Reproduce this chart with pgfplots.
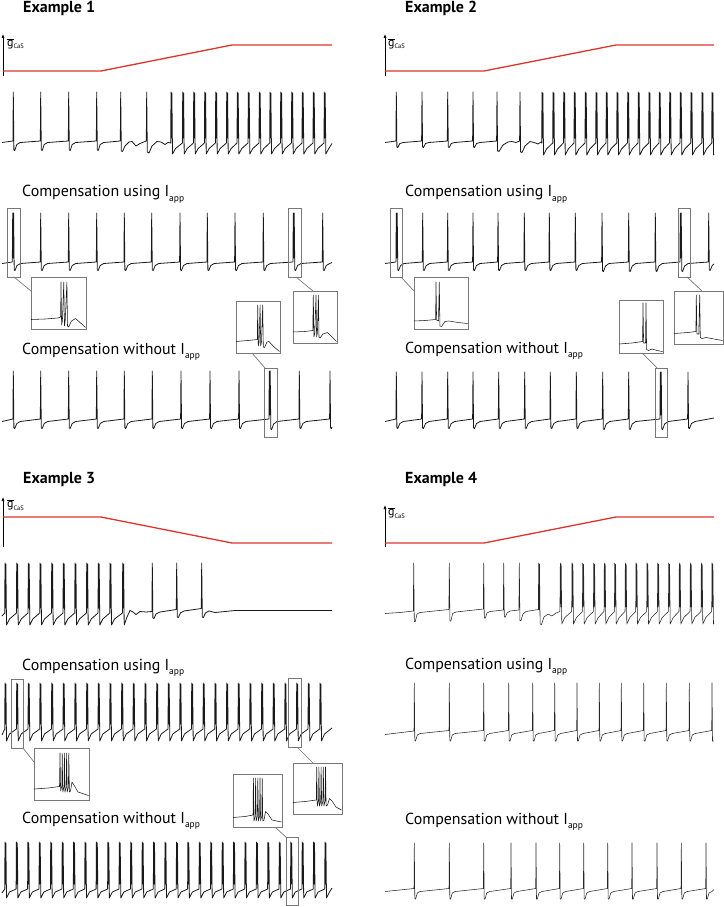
\documentclass[border=0pt]{standalone}
\usepackage{pgfplots}
\pgfplotsset{compat=1.18}
\usetikzlibrary{arrows.meta}
\usepackage{fontspec}
\setmainfont{PT Sans}
\definecolor{gred}{RGB}{221,51,43}
\definecolor{boxg}{RGB}{120,120,120}
\newcommand{\lbl}[2]{{\fontsize{16}{18}\selectfont #1 I\raisebox{-4.5bp}{\fontsize{9.5}{9.5}\selectfont app}}}
\newcommand{\ttl}[1]{{\fontsize{16}{18}\selectfont\bfseries #1}}
\newcommand{\gcas}{{\fontsize{12}{12}\selectfont$\overline{\mbox{g}}$\raisebox{-2.5bp}{\fontsize{6.5}{6.5}\selectfont CaS}}}
\begin{document}
\begin{tikzpicture}
\begin{axis}[width=724bp,height=907bp,scale only axis,xmin=0,xmax=724,ymin=0,ymax=907,y dir=reverse,hide axis,clip=false,
  trace/.style={black!90,line width=0.8bp,line join=round},
  thin trace/.style={black!85,line width=0.55bp,line join=round},
  gline/.style={gred,line width=1.3bp},
  bx/.style={boxg,line width=0.7bp},
  ax/.style={black,line width=0.6bp,-{Latex[length=4bp,width=3bp]}}]
\addplot[draw=none] coordinates {(0,0) (724,907)};
% ---------- titles and labels
\node[anchor=base west,inner sep=0] at (axis cs:23,12.7) {\ttl{Example 1}};
\node[anchor=base west,inner sep=0] at (axis cs:405,12.7) {\ttl{Example 2}};
\node[anchor=base west,inner sep=0] at (axis cs:23,483) {\ttl{Example 3}};
\node[anchor=base west,inner sep=0] at (axis cs:405,483) {\ttl{Example 4}};
\node[anchor=base west,inner sep=0] at (axis cs:22,196.7) {\lbl{Compensation using}{}};
\node[anchor=base west,inner sep=0] at (axis cs:405,196.7) {\lbl{Compensation using}{}};
\node[anchor=base west,inner sep=0] at (axis cs:22,670) {\lbl{Compensation using}{}};
\node[anchor=base west,inner sep=0] at (axis cs:405,669) {\lbl{Compensation using}{}};
\node[anchor=base west,inner sep=0] at (axis cs:22,354) {\lbl{Compensation without}{}};
\node[anchor=base west,inner sep=0] at (axis cs:405,353) {\lbl{Compensation without}{}};
\node[anchor=base west,inner sep=0] at (axis cs:22,823) {\lbl{Compensation without}{}};
\node[anchor=base west,inner sep=0] at (axis cs:405,824) {\lbl{Compensation without}{}};
\node[anchor=base west,inner sep=0] at (axis cs:7,46.5) {\gcas};
\node[anchor=base west,inner sep=0] at (axis cs:388,46.5) {\gcas};
\node[anchor=base west,inner sep=0] at (axis cs:7,507.5) {\gcas};
\node[anchor=base west,inner sep=0] at (axis cs:388,515.5) {\gcas};
% ---------- gCaS axes and ramps
\addplot[ax] coordinates {(3,76) (3,34)};
\addplot[ax] coordinates {(385,76) (385,34)};
\addplot[ax] coordinates {(3,547) (3,497)};
\addplot[ax] coordinates {(385,547) (385,505)};
\addplot[gline] coordinates {(3,71) (101,71) (232,45) (332,45)};
\addplot[gline] coordinates {(385,71) (484,71) (616,45) (714,45)};
\addplot[gline] coordinates {(3,517) (101,517) (232,543) (332,543)};
\addplot[gline] coordinates {(385,543) (484,543) (616,517) (714,517)};
% ---------- Example 1, trace 1
\addplot[trace] coordinates {(2,142.5)
(12.9,141)(13.3,92)(13.9,150)(14.8,150.5)(16.8,144.5)(20.3,142.5)
(40.3,141)(40.7,92)(41.3,150)(42.2,150.5)(44.2,144.5)(47.7,142.5)
(68.3,141)(68.7,92)(69.3,150)(70.2,150.5)(72.2,144.5)(75.7,142.5)
(96.3,141)(96.7,92)(97.3,150)(98.2,150.5)(100.2,144.5)(103.7,142.5)
(120.3,141)(120.7,92)(121.3,151)(122.5,151.5)(125,146)(129,142)(132,141.5)(136,146)(140,143.5)
(146.3,141)(146.7,92)(147.3,152)(149,153)(152,146)(157,141.5)(161,142)(165,144.5)(168,142.5)
(170.7,143)(171,92)(171.5,138)(171.9,93)(172.5,154)(175.5,148.5)
(182.4,143)(182.7,92)(183.2,138)(183.6,93)(184.2,154)(187.2,148.5)
(193.4,143)(193.7,92)(194.2,138)(194.6,93)(195.2,154)(198.2,148.5)
(204.4,143)(204.7,92)(205.2,138)(205.6,93)(206.2,154)(209.2,148.5)
(215.4,143)(215.7,92)(216.2,138)(216.6,93)(217.2,154)(220.2,148.5)
(226.4,143)(226.7,92)(227.2,138)(227.6,93)(228.2,154)(231.2,148.5)
(237,143)(237.3,92)(237.8,138)(238.2,93)(238.8,154)(241.8,148.5)
(248,143)(248.3,92)(248.8,138)(249.2,93)(249.8,154)(252.8,148.5)
(259,143)(259.3,92)(259.8,138)(260.2,93)(260.8,154)(263.8,148.5)
(269.7,143)(270,92)(270.5,138)(270.9,93)(271.5,154)(274.5,148.5)
(280.4,143)(280.7,92)(281.2,138)(281.6,93)(282.2,154)(285.2,148.5)
(291.4,143)(291.7,92)(292.2,138)(292.6,93)(293.2,154)(296.2,148.5)
(302,143)(302.3,92)(302.8,138)(303.2,93)(303.8,154)(306.8,148.5)
(313,143)(313.3,92)(313.8,138)(314.2,93)(314.8,154)(317.8,148.5)
(324,143)(324.3,92)(324.8,138)(325.2,93)(325.8,154)(328.8,148.5)(332,143.5)};
% ---------- Example 1, trace 2
\addplot[trace] coordinates {(2,263.5)
(12.3,262)(12.7,213)(13.2,258)(13.6,213)(14.2,270)(15,270.5)(17,265.5)(20.5,263.5)
(40.3,262)(40.7,213)(41.3,270)(42.2,270.5)(44.2,265.5)(47.7,263.5)
(68.3,262)(68.7,213)(69.3,270)(70.2,270.5)(72.2,265.5)(75.7,263.5)
(96.3,262)(96.7,213)(97.3,270)(98.2,270.5)(100.2,265.5)(103.7,263.5)
(123.9,262)(124.3,213)(124.9,270)(125.8,270.5)(127.8,265.5)(131.3,263.5)
(151.3,262)(151.7,213)(152.3,270)(153.2,270.5)(155.2,265.5)(158.7,263.5)
(179.6,262)(180,213)(180.6,270)(181.5,270.5)(183.5,265.5)(187,263.5)
(206.9,262)(207.3,213)(207.9,270)(208.8,270.5)(210.8,265.5)(214.3,263.5)
(234.6,262)(235,213)(235.6,270)(236.5,270.5)(238.5,265.5)(242,263.5)
(262.9,262)(263.3,213)(263.9,270)(264.8,270.5)(266.8,265.5)(270.3,263.5)
(292.9,262)(293.3,213)(293.8,258)(294.2,213)(294.8,270)(295.6,270.5)(297.6,265.5)(301.1,263.5)
(322.3,262)(322.7,213)(323.3,270)(324.2,270.5)(326.2,265.5)(329.7,263.5)(332,262.5)};
% ---------- Example 1, trace 3
\addplot[trace] coordinates {(2,421.5)
(12.9,419)(13.3,371)(13.9,428)(14.8,428.5)(16.8,423.5)(20.3,421.5)
(40.3,419)(40.7,371)(41.3,428)(42.2,428.5)(44.2,423.5)(47.7,421.5)
(68.3,419)(68.7,371)(69.3,428)(70.2,428.5)(72.2,423.5)(75.7,421.5)
(96.3,419)(96.7,371)(97.3,428)(98.2,428.5)(100.2,423.5)(103.7,421.5)
(123.9,419)(124.3,371)(124.9,428)(125.8,428.5)(127.8,423.5)(131.3,421.5)
(151.9,419)(152.3,371)(152.9,428)(153.8,428.5)(155.8,423.5)(159.3,421.5)
(180.6,419)(181,371)(181.6,428)(182.5,428.5)(184.5,423.5)(188,421.5)
(209.6,419)(210,371)(210.6,428)(211.5,428.5)(213.5,423.5)(217,421.5)
(238.6,419)(239,371)(239.6,428)(240.5,428.5)(242.5,423.5)(246,421.5)
(268.9,419)(269.3,371)(269.8,415)(270.2,371)(270.8,429)(271.6,429.5)(273.6,424)(277.1,421.5)
(298.9,419)(299.3,371)(299.9,428)(300.8,428.5)(302.8,423.5)(306.3,421.5)
(329.6,419)(330,371)(330.6,428)(331.5,428.5)(332,427)};
% ---------- Example 1 boxes and insets
\addplot[bx] coordinates {(7,208)(20,208)(20,277)(7,277)(7,208)};
\addplot[bx] coordinates {(14,277)(31,291)};
\addplot[bx] coordinates {(31,277)(86,277)(86,329)(31,329)(31,277)};
\addplot[trace,line width=0.55bp] coordinates {(31,319.5)(45,319)(58,318)(60.6,317)(61,282)(61.6,325)(62.4,321)(63.8,282)(64.4,326)(65.2,321)(66.9,282)(67.5,326)(68.6,327)(71.5,321)(75.5,318.5)(79.5,322)(85.5,327.5)};
\addplot[bx] coordinates {(288,208)(301,208)(301,277)(288,277)(288,208)};
\addplot[bx] coordinates {(296,277)(313,291)};
\addplot[bx] coordinates {(293,291)(337,291)(337,343)(293,343)(293,291)};
\addplot[trace,line width=0.55bp] coordinates {(293,332)(305,331.5)(312.8,330.5)(313.3,295)(313.9,337)(314.8,333)(316,295)(316.6,337)(317.4,333)(318.4,295)(319,337)(320,338)(323,334)(327.5,332.5)(331,336)(336.5,341.5)};
\addplot[bx] coordinates {(236,301)(280,301)(280,353)(236,353)(236,301)};
\addplot[bx] coordinates {(252,353)(265,368)};
\addplot[bx] coordinates {(264,368)(277,368)(277,437)(264,437)(264,368)};
\addplot[trace,line width=0.55bp] coordinates {(236,341.5)(248,340.5)(257.3,339.5)(257.7,305)(258.3,346)(259.1,342)(260.1,305)(260.7,346)(261.5,342)(262.7,305)(263.3,347)(264.5,347.5)(267,342)(269,341.5)(273,346)(279.5,351.5)};
% ---------- Example 2, trace 1
\addplot[trace] coordinates {(385,142.5)
(395.9,141)(396.3,92)(396.9,147)(397.8,147.5)(399.8,143.5)(403.3,142.5)
(421.6,141)(422,92)(422.6,147)(423.5,147.5)(425.5,143.5)(429,142.5)
(447.3,141)(447.7,92)(448.3,147)(449.2,147.5)(451.2,143.5)(454.7,142.5)
(472.6,141)(473,92)(473.6,147)(474.5,147.5)(476.5,143.5)(480,142.5)
(496.6,141)(497,92)(497.6,151)(499,151.5)(503,145)(508,142)(512,141.5)(516,142.5)
(519.6,141)(520,92)(520.6,152)(522,152.5)(525,146)(530,141.5)(534,142.5)(538,144)(541,142)
(541.7,143)(542,92)(542.5,138)(542.9,93)(543.5,155)(546.5,149)
(552.7,143)(553,92)(553.5,138)(553.9,93)(554.5,155)(557.5,149)
(563.4,143)(563.7,92)(564.2,138)(564.6,93)(565.2,155)(568.2,149)
(574,143)(574.3,92)(574.8,138)(575.2,93)(575.8,155)(578.8,149)
(585,143)(585.3,92)(585.8,138)(586.2,93)(586.8,155)(589.8,149)
(595.7,143)(596,92)(596.5,138)(596.9,93)(597.5,155)(600.5,149)
(606,143)(606.3,92)(606.8,138)(607.2,93)(607.8,155)(610.8,149)
(616.7,143)(617,92)(617.5,138)(617.9,93)(618.5,155)(621.5,149)
(627.4,143)(627.7,92)(628.2,138)(628.6,93)(629.2,155)(632.2,149)
(638,143)(638.3,92)(638.8,138)(639.2,93)(639.8,155)(642.8,149)
(648.7,143)(649,92)(649.5,138)(649.9,93)(650.5,155)(653.5,149)
(659,143)(659.3,92)(659.8,138)(660.2,93)(660.8,155)(663.8,149)
(669.4,143)(669.7,92)(670.2,138)(670.6,93)(671.2,155)(674.2,149)
(680,143)(680.3,92)(680.8,138)(681.2,93)(681.8,155)(684.8,149)
(690.7,143)(691,92)(691.5,138)(691.9,93)(692.5,155)(695.5,149)
(701.7,143)(702,92)(702.5,138)(702.9,93)(703.5,155)(706.5,149)
(711.7,143)(712,92)(712.5,138)(712.9,93)(713.5,155)(714,154)};
% ---------- Example 2, trace 2
\addplot[trace] coordinates {(385,263.5)
(395.9,262)(396.3,213)(396.8,258)(397.2,213)(397.8,270)(398.6,270.5)(400.6,265.5)(404.1,263.5)
(422.3,262)(422.7,213)(423.3,270)(424.2,270.5)(426.2,265.5)(429.7,263.5)
(447.3,262)(447.7,213)(448.3,270)(449.2,270.5)(451.2,265.5)(454.7,263.5)
(472.6,262)(473,213)(473.6,270)(474.5,270.5)(476.5,265.5)(480,263.5)
(497.6,262)(498,213)(498.6,270)(499.5,270.5)(501.5,265.5)(505,263.5)
(523.9,262)(524.3,213)(524.9,270)(525.8,270.5)(527.8,265.5)(531.3,263.5)
(548.9,262)(549.3,213)(549.9,270)(550.8,270.5)(552.8,265.5)(556.3,263.5)
(574.9,262)(575.3,213)(575.9,270)(576.8,270.5)(578.8,265.5)(582.3,263.5)
(601.6,262)(602,213)(602.6,271)(603.5,271.5)(605.5,266)(609,263.5)
(628.3,262)(628.7,213)(629.3,271)(630.2,271.5)(632.2,266)(635.7,263.5)
(654.9,262)(655.3,213)(655.9,271)(656.8,271.5)(658.8,266)(662.3,263.5)
(679.9,262)(680.3,213)(680.8,258)(681.2,213)(681.8,271)(682.6,271.5)(684.6,266)(688.1,263.5)
(708.3,262)(708.7,213)(709.3,270)(710.2,270.5)(712.2,265.5)(714,264)};
% ---------- Example 2, trace 3
\addplot[trace] coordinates {(385,421.5)
(395.9,419)(396.3,372)(396.9,428)(397.8,428.5)(399.8,423.5)(403.3,421.5)
(421.6,419)(422,372)(422.6,428)(423.5,428.5)(425.5,423.5)(429,421.5)
(447.3,419)(447.7,372)(448.3,428)(449.2,428.5)(451.2,423.5)(454.7,421.5)
(472.6,419)(473,372)(473.6,428)(474.5,428.5)(476.5,423.5)(480,421.5)
(498.3,419)(498.7,372)(499.3,428)(500.2,428.5)(502.2,423.5)(505.7,421.5)
(524.3,419)(524.7,372)(525.3,428)(526.2,428.5)(528.2,423.5)(531.7,421.5)
(549.9,419)(550.3,372)(550.9,428)(551.8,428.5)(553.8,423.5)(557.3,421.5)
(575.9,419)(576.3,372)(576.9,428)(577.8,428.5)(579.8,423.5)(583.3,421.5)
(602.3,419)(602.7,372)(603.3,429)(604.2,429.5)(606.2,424)(609.7,421.5)
(628.3,419)(628.7,372)(629.3,429)(630.2,429.5)(632.2,424)(635.7,421.5)
(659.9,419)(660.3,372)(660.8,415)(661.2,372)(661.8,429)(662.6,429.5)(664.6,424)(668.1,421.5)
(687.6,419)(688,372)(688.6,428)(689.5,428.5)(691.5,423.5)(695,421.5)(714,418)};
% ---------- Example 2 boxes and insets
\addplot[bx] coordinates {(390,208)(402,208)(402,277)(390,277)(390,208)};
\addplot[bx] coordinates {(401,277)(414,291)};
\addplot[bx] coordinates {(414,277)(468,277)(468,329)(414,329)(414,277)};
\addplot[trace,line width=0.55bp] coordinates {(414,321)(425,320.5)(435.6,319.5)(436,282)(436.6,320)(438.5,321)(439.3,282)(439.9,326)(441.5,326.5)(445,321.5)(449,321)(458,322.5)(467.5,323.5)};
\addplot[bx] coordinates {(678,208)(690,208)(690,277)(678,277)(678,208)};
\addplot[bx] coordinates {(687,277)(702,291)};
\addplot[bx] coordinates {(674,291)(723,291)(723,344)(674,344)(674,291)};
\addplot[trace,line width=0.55bp] coordinates {(674,333.5)(688,332.5)(695.9,331.5)(696.3,295)(696.9,334)(698.8,334)(699.7,295)(700.3,337.5)(702,338.5)(706,337.5)(714,339)(722.5,340.5)};
\addplot[bx] coordinates {(619,300)(663,300)(663,353)(619,353)(619,300)};
\addplot[bx] coordinates {(642,353)(657,368)};
\addplot[bx] coordinates {(655,368)(667,368)(667,437)(655,437)(655,368)};
\addplot[trace,line width=0.55bp] coordinates {(619,344)(632,343)(642.6,341.5)(643,303)(643.6,343)(645.5,343)(646,303)(646.6,349.5)(648.5,350.5)(652,349)(657,350.5)(662.5,351.5)};
% ---------- Example 3, trace 1
\addplot[trace] coordinates {(2,616)
(4.7,613)(5,563)(5.5,608)(5.9,564)(6.5,625)(9.5,619)
(16.4,613)(16.7,563)(17.2,608)(17.6,564)(18.2,625)(21.2,619)
(28,613)(28.3,563)(28.8,608)(29.2,564)(29.8,625)(32.8,619)
(39.7,613)(40,563)(40.5,608)(40.9,564)(41.5,625)(44.5,619)
(51.4,613)(51.7,563)(52.2,608)(52.6,564)(53.2,625)(56.2,619)
(63,613)(63.3,563)(63.8,608)(64.2,564)(64.8,625)(67.8,619)
(74.7,613)(75,563)(75.5,608)(75.9,564)(76.5,625)(79.5,619)
(86.4,613)(86.7,563)(87.2,608)(87.6,564)(88.2,625)(91.2,619)
(98,613)(98.3,563)(98.8,608)(99.2,564)(99.8,625)(102.8,619)
(109.7,613)(110,563)(110.5,608)(110.9,564)(111.5,625)(114.5,619)
(122.4,613)(122.7,563)(123.2,608)(123.6,564)(124.2,625)(127,617)(130,610.5)(133,612)(136,614.5)(140,611.5)(146,612)
(151.9,611.5)(152.3,563)(152.9,618)(154,618.5)(156,614)(160,612)(176.3,609.5)
(176.7,563)(177.3,617)(178.4,617.5)(180.4,613)(184,611)(201.3,608.5)
(201.7,563)(202.3,617)(203.4,617.5)(205.4,613)(209,611)(215,612.5)(225,611.5)(235,610.5)(332,610.5)};
% ---------- Example 3, trace 2
\addplot[trace] coordinates {(2,735)
(4.7,729)(5,683)(5.5,724)(5.9,684)(6.5,741)(9.5,734)
(16.4,729)(16.7,683)(17.2,724)(17.6,684)(18.2,741)(21.2,734)
(28,729)(28.3,683)(28.8,724)(29.2,684)(29.8,741)(32.8,734)
(39.7,729)(40,683)(40.5,724)(40.9,684)(41.5,741)(44.5,734)
(51.4,729)(51.7,683)(52.2,724)(52.6,684)(53.2,741)(56.2,734)
(63,729)(63.3,683)(63.8,724)(64.2,684)(64.8,741)(67.8,734)
(74.7,729)(75,683)(75.5,724)(75.9,684)(76.5,741)(79.5,734)
(86.4,729)(86.7,683)(87.2,724)(87.6,684)(88.2,741)(91.2,734)
(98,729)(98.3,683)(98.8,724)(99.2,684)(99.8,741)(102.8,734)
(109.7,729)(110,683)(110.5,724)(110.9,684)(111.5,741)(114.5,734)
(121.4,729)(121.7,683)(122.2,724)(122.6,684)(123.2,741)(126.2,734)
(133,729)(133.3,683)(133.8,724)(134.2,684)(134.8,741)(137.8,734)
(144.7,729)(145,683)(145.5,724)(145.9,684)(146.5,741)(149.5,734)
(156.4,729)(156.7,683)(157.2,724)(157.6,684)(158.2,741)(161.2,734)
(168,729)(168.3,683)(168.8,724)(169.2,684)(169.8,741)(172.8,734)
(179.7,729)(180,683)(180.5,724)(180.9,684)(181.5,741)(184.5,734)
(191.4,729)(191.7,683)(192.2,724)(192.6,684)(193.2,741)(196.2,734)
(203,729)(203.3,683)(203.8,724)(204.2,684)(204.8,741)(207.8,734)
(214.7,729)(215,683)(215.5,724)(215.9,684)(216.5,741)(219.5,734)
(226.4,729)(226.7,683)(227.2,724)(227.6,684)(228.2,741)(231.2,734)
(238,729)(238.3,683)(238.8,724)(239.2,684)(239.8,741)(242.8,734)
(249.7,729)(250,683)(250.5,724)(250.9,684)(251.5,741)(254.5,734)
(261.4,729)(261.7,683)(262.2,724)(262.6,684)(263.2,741)(266.2,734)
(273,729)(273.3,683)(273.8,724)(274.2,684)(274.8,741)(277.8,734)
(284.7,729)(285,683)(285.5,724)(285.9,684)(286.5,741)(289.5,734)
(296.4,729)(296.7,683)(297.2,724)(297.6,684)(298.2,741)(301.2,734)
(308,729)(308.3,683)(308.8,724)(309.2,684)(309.8,741)(312.8,734)
(319.7,729)(320,683)(320.5,724)(320.9,684)(321.5,741)(324.5,734)(332,728)};
% ---------- Example 3, trace 3
\addplot[trace] coordinates {(2,893)
(4.7,889)(5,842)(5.5,884)(5.9,843)(6.5,898)(9.5,892)
(16.1,889)(16.4,842)(16.9,884)(17.3,843)(17.9,898)(20.9,892)
(27.6,889)(27.9,842)(28.4,884)(28.8,843)(29.4,898)(32.4,892)
(39,889)(39.3,842)(39.8,884)(40.2,843)(40.8,898)(43.8,892)
(50.4,889)(50.7,842)(51.2,884)(51.6,843)(52.2,898)(55.2,892)
(61.9,889)(62.2,842)(62.7,884)(63.1,843)(63.7,898)(66.7,892)
(73.3,889)(73.6,842)(74.1,884)(74.5,843)(75.1,898)(78.1,892)
(84.7,889)(85,842)(85.5,884)(85.9,843)(86.5,898)(89.5,892)
(96.1,889)(96.4,842)(96.9,884)(97.3,843)(97.9,898)(100.9,892)
(107.6,889)(107.9,842)(108.4,884)(108.8,843)(109.4,898)(112.4,892)
(119,889)(119.3,842)(119.8,884)(120.2,843)(120.8,898)(123.8,892)
(130.4,889)(130.7,842)(131.2,884)(131.6,843)(132.2,898)(135.2,892)
(141.9,889)(142.2,842)(142.7,884)(143.1,843)(143.7,898)(146.7,892)
(153.3,889)(153.6,842)(154.1,884)(154.5,843)(155.1,898)(158.1,892)
(164.7,889)(165,842)(165.5,884)(165.9,843)(166.5,898)(169.5,892)
(176.2,889)(176.5,842)(177,884)(177.4,843)(178,898)(181,892)
(187.6,889)(187.9,842)(188.4,884)(188.8,843)(189.4,898)(192.4,892)
(199,889)(199.3,842)(199.8,884)(200.2,843)(200.8,898)(203.8,892)
(210.4,889)(210.7,842)(211.2,884)(211.6,843)(212.2,898)(215.2,892)
(221.9,889)(222.2,842)(222.7,884)(223.1,843)(223.7,898)(226.7,892)
(233.3,889)(233.6,842)(234.1,884)(234.5,843)(235.1,898)(238.1,892)
(244.7,889)(245,842)(245.5,884)(245.9,843)(246.5,898)(249.5,892)
(256.2,889)(256.5,842)(257,884)(257.4,843)(258,898)(261,892)
(267.6,889)(267.9,842)(268.4,884)(268.8,843)(269.4,898)(272.4,892)
(279,889)(279.3,842)(279.8,884)(280.2,843)(280.8,898)(283.8,892)
(290.5,889)(290.8,842)(291.3,884)(291.7,843)(292.3,898)(295.3,892)
(301.9,889)(302.2,842)(302.7,884)(303.1,843)(303.7,898)(306.7,892)
(313.3,889)(313.6,842)(314.1,884)(314.5,843)(315.1,898)(318.1,892)
(324.7,889)(325,842)(325.5,884)(325.9,843)(326.5,898)(329.5,892)(332,888)};
% ---------- Example 3 boxes and insets
\addplot[bx] coordinates {(11,679)(23,679)(23,748)(11,748)(11,679)};
\addplot[bx] coordinates {(23,748)(34,762)};
\addplot[bx] coordinates {(34,748)(89,748)(89,800)(34,800)(34,748)};
\addplot[trace,line width=0.55bp] coordinates {(34,789)(48,788)(59.5,786.5)(60,753)(60.6,791)(61.8,786)(62.2,753)(62.8,792)(64,787)(64.4,753)(65,792)(66.2,787)(66.6,753)(67.2,792)(68.4,787)(68.8,753)(69.4,792)(70.5,791)(72,782)(74,785)(78,792)(88.5,795.5)};
\addplot[bx] coordinates {(288,678)(301,678)(301,747)(288,747)(288,678)};
\addplot[bx] coordinates {(297,747)(313,763)};
\addplot[bx] coordinates {(293,763)(342,763)(342,814)(293,814)(293,763)};
\addplot[trace,line width=0.55bp] coordinates {(293,802.5)(305,801.5)(316.3,800)(316.7,767)(317.3,806)(318.5,801)(318.9,767)(319.5,806)(320.7,801)(321.1,767)(321.7,806)(322.9,801)(323.3,767)(323.9,806)(325.1,801)(325.5,767)(326.1,806)(327.5,805)(329.5,798.5)(332,801)(336,807)(341.5,810)};
\addplot[bx] coordinates {(233,774)(282,774)(282,827)(233,827)(233,774)};
\addplot[bx] coordinates {(275,827)(287,838)};
\addplot[bx] coordinates {(286,837)(298,837)(298,905)(286,905)(286,837)};
\addplot[trace,line width=0.55bp] coordinates {(233,817.5)(245,816.5)(253,815)(253.4,778)(254,821)(255.2,816)(255.6,778)(256.2,821)(257.4,816)(257.8,778)(258.4,821)(259.6,816)(260,778)(260.6,821)(261.8,816)(262.2,778)(262.8,821)(264,820)(265.5,811.5)(268,814)(272,820)(281.5,822)};
% ---------- Example 4, trace 1
\addplot[thin trace] coordinates {(385,613.5)(400,612.5)(413.3,611)
(413.7,563)(414.3,621.5)(415.3,621.5)(417,614)(420,612.5)(448.9,609.5)
(449.3,563)(449.9,621)(450.9,621)(452.6,613.5)(456,612)(483.3,609)
(483.7,563)(484.3,618)(485.3,618)(487,613)(490,611.5)(503.3,610)
(503.7,563)(504.3,617)(505.3,617)(507,613)(510,611)(518.9,610)
(519.3,563)(519.9,620.5)(521,620.5)(523,614)(526,611.5)(538.3,609.5)
(538.7,563)(539.2,610)(539.5,564)(540.1,624)(541.5,624.5)(544,617)(548,614)(552,616)(556,613)(559.9,611.5)
(560.3,563)(560.8,607)(561.2,564)(561.8,624)(564.8,617.5)
(571.7,611.5)(572,563)(572.5,607)(572.9,564)(573.5,624)(576.5,617.5)
(582.4,611.5)(582.7,563)(583.2,607)(583.6,564)(584.2,624)(587.2,617.5)
(593.4,611.5)(593.7,563)(594.2,607)(594.6,564)(595.2,624)(598.2,617.5)
(604,611.5)(604.3,563)(604.8,607)(605.2,564)(605.8,624)(608.8,617.5)
(614.4,611.5)(614.7,563)(615.2,607)(615.6,564)(616.2,624)(619.2,617.5)
(625,611.5)(625.3,563)(625.8,607)(626.2,564)(626.8,624)(629.8,617.5)
(635.7,611.5)(636,563)(636.5,607)(636.9,564)(637.5,624)(640.5,617.5)
(646.7,611.5)(647,563)(647.5,607)(647.9,564)(648.5,624)(651.5,617.5)
(657.4,611.5)(657.7,563)(658.2,607)(658.6,564)(659.2,624)(662.2,617.5)
(668.4,611.5)(668.7,563)(669.2,607)(669.6,564)(670.2,624)(673.2,617.5)
(679,611.5)(679.3,563)(679.8,607)(680.2,564)(680.8,624)(683.8,617.5)
(690,611.5)(690.3,563)(690.8,607)(691.2,564)(691.8,624)(694.8,617.5)
(701,611.5)(701.3,563)(701.8,607)(702.2,564)(702.8,624)(705.8,617.5)
(711.7,611.5)(712,563)(712.5,607)(712.9,564)(713.5,624)(714,623)};
% ---------- Example 4, trace 2
\addplot[thin trace] coordinates {(385,734.5)
(414,731)(414.3,683)(414.8,741)(415.6,741)(417.3,735)(420.3,733.5)
(449,730.5)(449.3,683)(449.8,741)(450.6,741)(452.3,735)(455.3,733.5)
(483.4,730.5)(483.7,683)(484.2,741)(485,741)(486.7,735)(489.7,733.5)
(508.4,730.5)(508.7,683)(509.2,741)(510,741)(511.7,735)(514.7,733.5)
(532.4,730.5)(532.7,683)(533.2,741)(534,741)(535.7,735)(538.7,733.5)
(554.4,730.5)(554.7,683)(555.2,741)(556,741)(557.7,735)(560.7,733.5)
(576.7,730.5)(577,683)(577.5,741)(578.3,741)(580,735)(583,733.5)
(599,730.5)(599.3,683)(599.8,741)(600.6,741)(602.3,735)(605.3,733.5)
(621,730.5)(621.3,683)(621.8,741)(622.6,741)(624.3,735)(627.3,733.5)
(643.4,730.5)(643.7,683)(644.2,741)(645,741)(646.7,735)(649.7,733.5)
(666,730.5)(666.3,683)(666.8,741)(667.6,741)(669.3,735)(672.3,733.5)
(689,730.5)(689.3,683)(689.8,741)(690.6,741)(692.3,735)(695.3,733.5)
(711.7,730.5)(712,683)(712.5,741)(713.5,741)};
% ---------- Example 4, trace 3
\addplot[thin trace] coordinates {(385,891.5)
(414,888.5)(414.3,843)(414.8,899)(415.6,899)(417.3,893)(420.3,891.5)
(449,888.5)(449.3,843)(449.8,899)(450.6,899)(452.3,893)(455.3,891.5)
(483.4,888.5)(483.7,843)(484.2,899)(485,899)(486.7,893)(489.7,891.5)
(510.7,888.5)(511,843)(511.5,899)(512.3,899)(514,893)(517,891.5)
(535.7,888.5)(536,843)(536.5,899)(537.3,899)(539,893)(542,891.5)
(559.4,888.5)(559.7,843)(560.2,899)(561,899)(562.7,893)(565.7,891.5)
(583.4,888.5)(583.7,843)(584.2,899)(585,899)(586.7,893)(589.7,891.5)
(607.4,888.5)(607.7,843)(608.2,899)(609,899)(610.7,893)(613.7,891.5)
(631.7,888.5)(632,843)(632.5,899)(633.3,899)(635,893)(638,891.5)
(656.7,888.5)(657,843)(657.5,899)(658.3,899)(660,893)(663,891.5)
(681,888.5)(681.3,843)(681.8,899)(682.6,899)(684.3,893)(687.3,891.5)
(705.7,888.5)(706,843)(706.5,899)(707.3,899)(709,893)(712,891.5)(714,889.5)};
\end{axis}
\end{tikzpicture}
\end{document}
